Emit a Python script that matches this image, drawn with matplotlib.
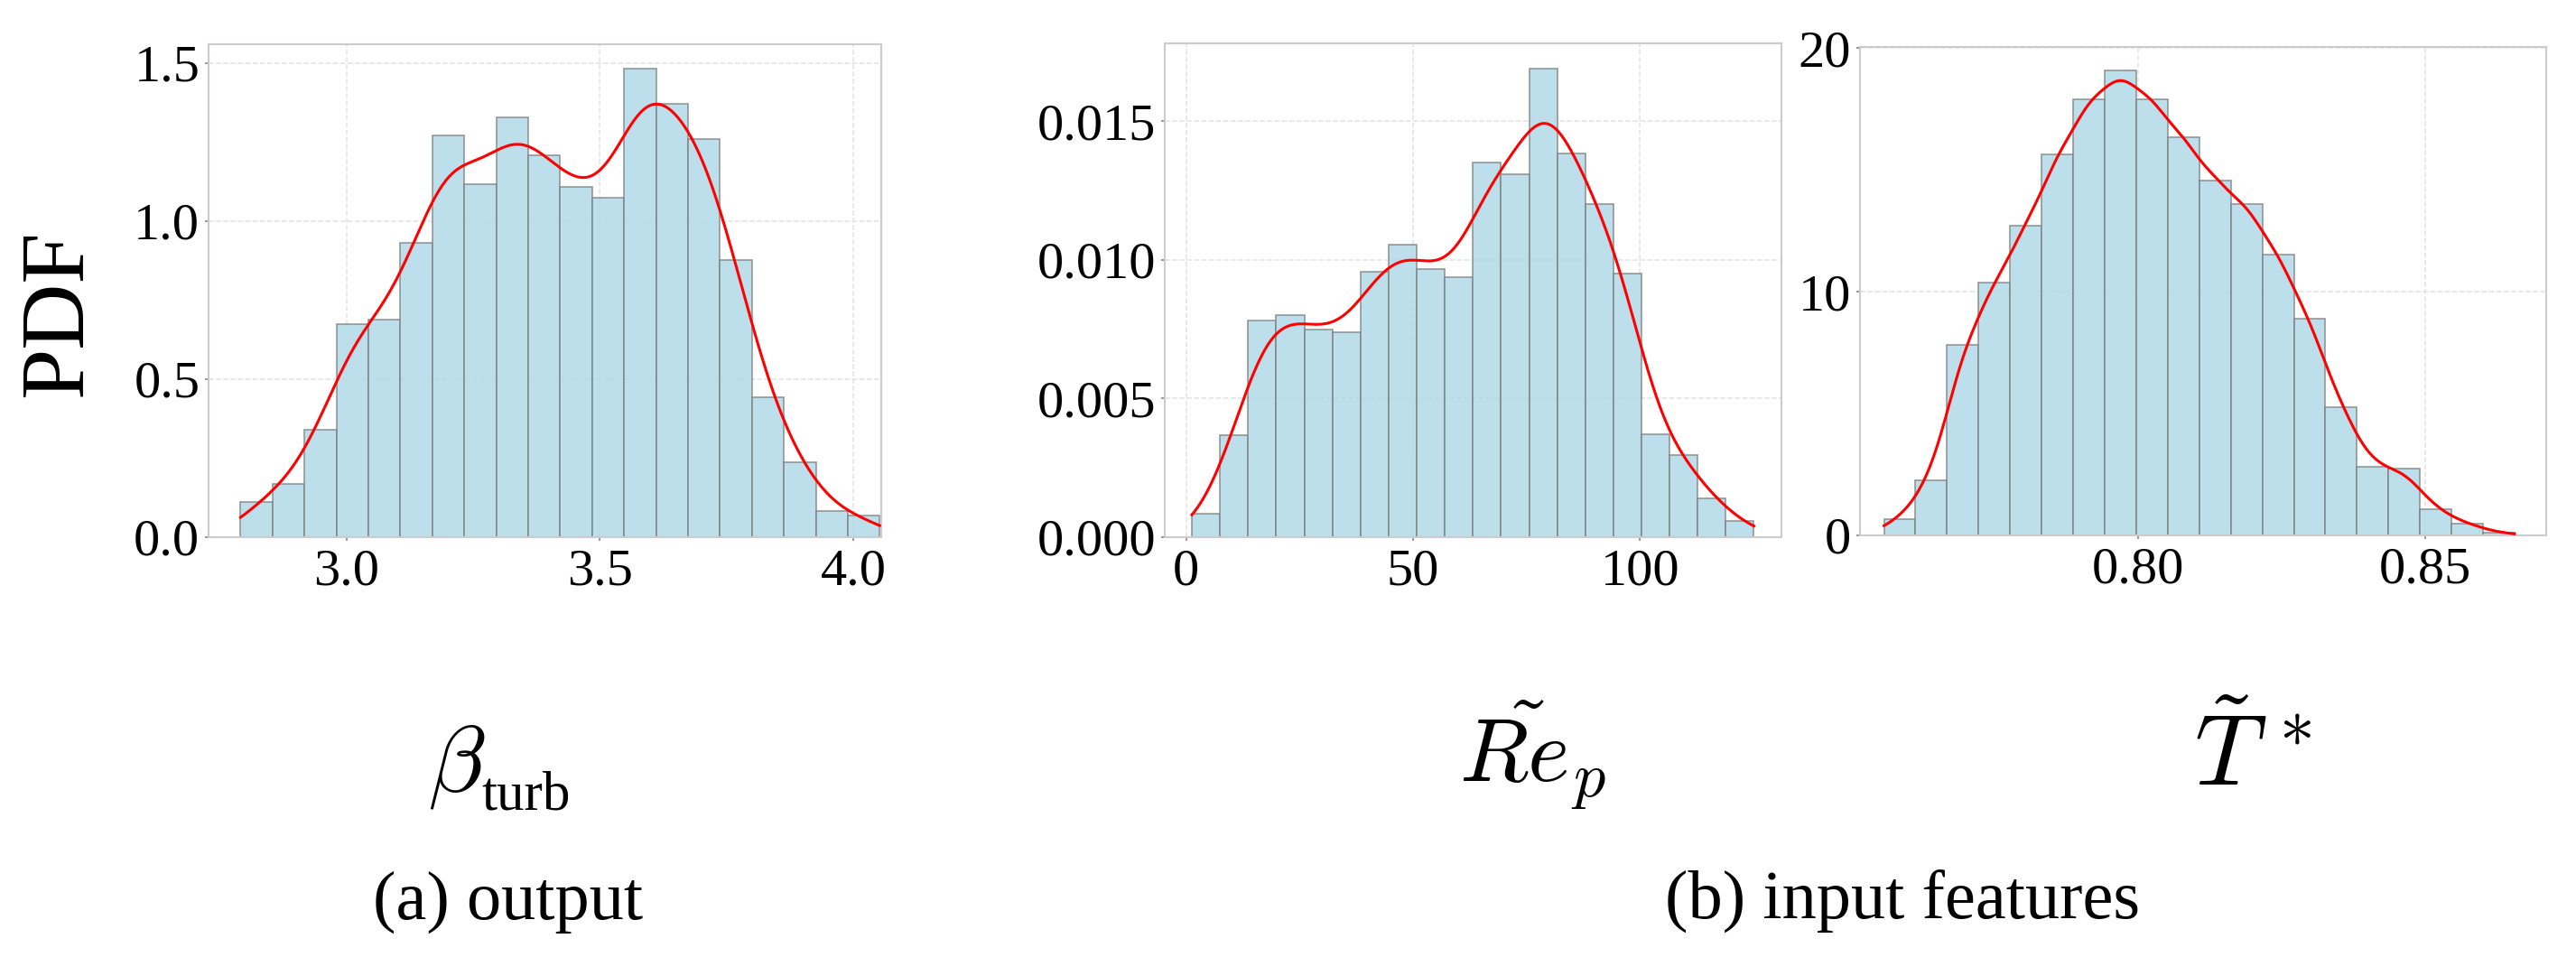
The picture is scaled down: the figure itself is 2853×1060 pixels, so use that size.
import numpy as np
import matplotlib
matplotlib.use("Agg")
import matplotlib.pyplot as plt

plt.rcParams['font.family'] = ['Liberation Serif', 'DejaVu Serif']
plt.rcParams['mathtext.fontset'] = 'cm'

# bar heights (density), 20 equal bins each
beta_edges = (2.791, 4.052)
beta_heights = [0.111, 0.169, 0.340, 0.674, 0.689, 0.930, 1.270, 1.116, 1.329, 1.209,
                1.108, 1.074, 1.483, 1.372, 1.261, 0.876, 0.442, 0.236, 0.084, 0.068]

rep_edges = (1.26, 125.1)
rep_heights = [0.00086, 0.00367, 0.00781, 0.00800, 0.00748, 0.00739, 0.00957, 0.01055,
               0.00968, 0.00938, 0.01352, 0.01307, 0.01690, 0.01383, 0.01201, 0.00949,
               0.00372, 0.00296, 0.00139, 0.00058]

tstar_edges = (0.7558, 0.8656)
tstar_heights = [0.68, 2.25, 7.81, 10.36, 12.70, 15.64, 17.90, 19.09, 17.90, 16.33,
                 14.57, 13.59, 11.54, 8.89, 5.27, 2.81, 2.74, 1.06, 0.48, 0.10]

panels = [
    dict(edges=beta_edges, heights=beta_heights, xlim=(2.728, 4.055), ylim=(0, 1.56),
         xticks=[3.0, 3.5, 4.0], xtl=['3.0', '3.5', '4.0'],
         yticks=[0, 0.5, 1.0, 1.5], ytl=['0.0', '0.5', '1.0', '1.5'], bw=0.85),
    dict(edges=rep_edges, heights=rep_heights, xlim=(-4.7, 131.2), ylim=(0, 0.0178),
         xticks=[0, 50, 100], xtl=['0', '50', '100'],
         yticks=[0, 0.005, 0.010, 0.015], ytl=['0.000', '0.005', '0.010', '0.015'], bw=0.9),
    dict(edges=tstar_edges, heights=tstar_heights, xlim=(0.7516, 0.8711), ylim=(0, 20.05),
         xticks=[0.80, 0.85], xtl=['0.80', '0.85'],
         yticks=[0, 10, 20], ytl=['0', '10', '20'], bw=0.62),
]

rects = [[0.0810, 0.4387, 0.2611, 0.5151],
         [0.4522, 0.4387, 0.2394, 0.5160],
         [0.7220, 0.4406, 0.2664, 0.5103]]

FS = 42

fig = plt.figure(figsize=(28.53, 10.60), dpi=100)

for rect, p in zip(rects, panels):
    ax = fig.add_axes(rect)
    h = np.array(p['heights'])
    edges = np.linspace(p['edges'][0], p['edges'][1], len(h) + 1)
    width = edges[1] - edges[0]
    centers = 0.5 * (edges[:-1] + edges[1:])
    ax.bar(centers, h, width=width, color='lightblue', alpha=0.8,
           edgecolor='gray', linewidth=1.2, zorder=2)

    # smooth density estimate from the binned values
    sig = p['bw'] * width
    xs = np.linspace(edges[0], edges[-1], 400)
    w = h * width
    kde = (w[None, :] * np.exp(-0.5 * ((xs[:, None] - centers[None, :]) / sig) ** 2)).sum(1)
    kde /= np.sqrt(2 * np.pi) * sig
    ax.plot(xs, kde, color='red', lw=2.2, zorder=3)

    ax.set_xlim(*p['xlim'])
    ax.set_ylim(*p['ylim'])
    ax.set_xticks(p['xticks'])
    ax.set_xticklabels(p['xtl'])
    ax.set_yticks(p['yticks'])
    ax.set_yticklabels(p['ytl'])
    ax.tick_params(labelsize=FS, length=3, width=1.2, color='#888888', pad=4)
    ax.tick_params(axis='x', pad=6)
    ax.grid(True, ls='--', color='#e3e3e3', lw=1.1, zorder=0)
    ax.set_axisbelow(True)
    for s in ax.spines.values():
        s.set_color('#cccccc')
        s.set_linewidth(1.5)

fig.text(0.0233, 0.6726, 'PDF', rotation=90, ha='center', va='center', fontsize=73)

# beta_turb: symbol and roman subscript
fig.text(0.1661, 0.1745, r'$\beta$', ha='left', va='baseline', fontsize=75)
fig.text(0.1870, 0.1538, 'turb', ha='left', va='baseline', fontsize=44)
fig.text(0.5664, 0.182, r'$\tilde{Re}_p$', ha='left', va='baseline', fontsize=72)
fig.text(0.8517, 0.179, r'$\tilde{T}^{\,*}$', ha='left', va='baseline', fontsize=80)

fig.text(0.1972, 0.0396, '(a) output', ha='center', va='baseline', fontsize=55)
fig.text(0.7387, 0.0396, '(b) input features', ha='center', va='baseline', fontsize=55)

fig.savefig('out.png', dpi=100)
